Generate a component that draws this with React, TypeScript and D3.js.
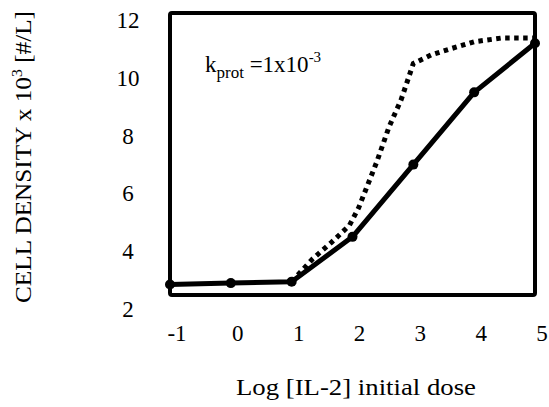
import React from "react";
import * as d3 from "d3";

const xTicks = [-1, 0, 1, 2, 3, 4, 5];
const yTicks = [2, 4, 6, 8, 10, 12];

const solidX = [-1, 0, 1, 2, 3, 4, 5];
const solidY = [2.95, 3.0, 3.05, 4.6, 7.1, 9.6, 11.3];

const dottedX = [1, 1.35, 1.65, 1.95, 2.1, 2.25, 2.4, 2.6, 2.8, 3, 3.3, 3.6, 4, 4.45, 5];
const dottedY = [3.05, 3.85, 4.4, 5.0, 5.6, 6.4, 7.2, 8.4, 9.35, 10.6, 10.9, 11.1, 11.35, 11.48, 11.48];

const W = 549;
const H = 407;

export default function App() {
  const left = 170, right = 535, top = 13, bottom = 295;
  const x = d3.scaleLinear().domain([-1, 5]).range([left, right]);
  const y = d3.scaleLinear().domain([2, 12]).range([312, 23]);

  const solid = solidX.map((v, i) => [v, solidY[i]] as [number, number]);
  const dotted = dottedX.map((v, i) => [v, dottedY[i]] as [number, number]);
  const line = d3.line<[number, number]>().x(d => x(d[0])).y(d => y(d[1]));
  const font = "'Liberation Serif', 'Times New Roman', serif";

  return (
    <svg width={W} height={H} style={{ position: "absolute", left: 0, top: 0, background: "#fff" }}>
      <rect x={0} y={0} width={W} height={H} fill="#fff" />
      <rect x={left} y={top} width={right - left} height={bottom - top} fill="none" stroke="#000" strokeWidth={4} rx={2} />
      <path d={line(dotted) || ""} fill="none" stroke="#000" strokeWidth={5} strokeDasharray="4.5,4.5" />
      <path d={line(solid) || ""} fill="none" stroke="#000" strokeWidth={5} strokeLinejoin="round" />
      {solid.map((d, i) => (
        <circle key={i} cx={x(d[0])} cy={y(d[1])} r={5} fill="#000" />
      ))}
      {xTicks.map(t => (
        <text key={t} x={x(t) + 7} y={341} textAnchor="middle" fontFamily={font} fontSize={23} fill="#000">{t}</text>
      ))}
      {yTicks.map(t => (
        <text key={t} x={128} y={y(t) + 5} textAnchor="middle" fontFamily={font} fontSize={23} fill="#000">{t}</text>
      ))}
      <text x={356} y={395} textAnchor="middle" fontFamily={font} fontSize={23} textLength={240} lengthAdjust="spacingAndGlyphs" fill="#000">Log [IL-2] initial dose</text>
      <text transform="translate(31,157) rotate(-90)" textAnchor="middle" fontFamily={font} fontSize={24} textLength={292} lengthAdjust="spacingAndGlyphs" fill="#000">
        CELL DENSITY x 10<tspan dy={-9} fontSize={15}>3</tspan><tspan dy={9}> [#/L]</tspan>
      </text>
      <text x={205} y={72} fontFamily={font} fontSize={23} fill="#000">
        k<tspan dy={6} fontSize={17}>prot</tspan><tspan dy={-6}> =1x10</tspan><tspan dy={-10} fontSize={15}>-3</tspan>
      </text>
    </svg>
  );
}
